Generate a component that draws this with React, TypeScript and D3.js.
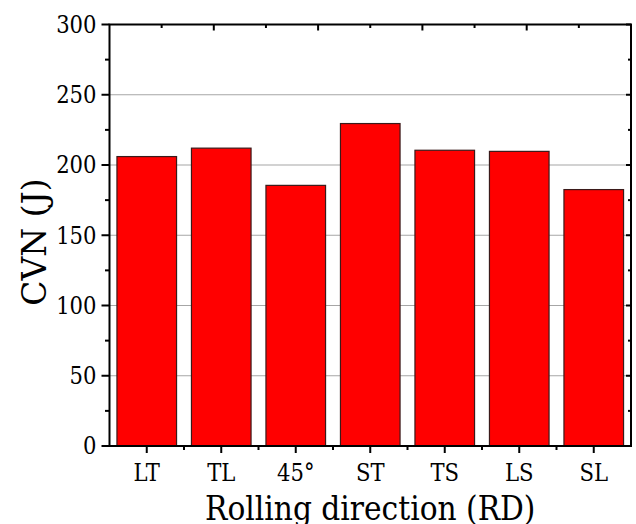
import React from "react";
import * as d3 from "d3";

const categories = ["LT", "TL", "45°", "ST", "TS", "LS", "SL"];
const cvnValues = [206, 212, 185.5, 229.5, 210.5, 209.7, 182.5];
const yTicks = [0, 50, 100, 150, 200, 250, 300];
const yMinorTicks = [25, 75, 125, 175, 225, 275];
const gridValues = [50, 100, 150, 200, 250];

const W = 636;
const H = 524;
const M = { left: 109.5, right: 631, top: 24.5, bottom: 446 };
const FONT = "'DejaVu Serif', serif";
const TICK_SIZE = 23.5;
const TICK_SX = 0.9;
const TITLE_SIZE = 33;

export default function App() {
  const x = d3
    .scaleBand<string>()
    .domain(categories)
    .range([M.left, M.right])
    .paddingInner(0.2)
    .paddingOuter(0.1);
  const y = d3.scaleLinear().domain([0, 300]).range([M.bottom, M.top]);
  const step = x.step();
  const boundaries = d3.range(categories.length + 1).map((i) => M.left + i * step);
  const topMajor = d3.range(1, 5).map((i) => M.left + (i * (M.right - M.left)) / 5);
  const topMinor = d3.range(0, 5).map((i) => M.left + ((i + 0.5) * (M.right - M.left)) / 5);
  const ts = { fontFamily: FONT };

  return (
    <svg
      width={W}
      height={H}
      style={{ position: "absolute", left: 0, top: 0, background: "#fff", fontFamily: FONT }}
    >
      {gridValues.map((v) => (
        <line key={"g" + v} x1={M.left} x2={M.right} y1={y(v)} y2={y(v)} stroke="#a6a6a6" strokeWidth={1.2} />
      ))}
      {categories.map((c, i) => (
        <rect
          key={c}
          x={x(c)}
          y={y(cvnValues[i])}
          width={x.bandwidth()}
          height={y(0) - y(cvnValues[i])}
          fill="#ff0000"
          stroke="#3a1a1a"
          strokeWidth={1.2}
        />
      ))}
      {yTicks.map((v) => (
        <g key={"yt" + v}>
          <line x1={M.left - 8} x2={M.left} y1={y(v)} y2={y(v)} stroke="#000" strokeWidth={2} />
          <line x1={M.right} x2={M.right - 5} y1={y(v)} y2={y(v)} stroke="#000" strokeWidth={2} />
          <text
            style={ts}
            transform={`translate(${M.left - 13}, ${y(v)}) scale(${TICK_SX}, 1)`}
            dy="0.36em"
            textAnchor="end"
            fontSize={TICK_SIZE}
            fill="#000"
          >
            {v}
          </text>
        </g>
      ))}
      {yMinorTicks.map((v) => (
        <g key={"ym" + v}>
          <line x1={M.left - 4.5} x2={M.left} y1={y(v)} y2={y(v)} stroke="#000" strokeWidth={2} />
          <line x1={M.right} x2={M.right - 3} y1={y(v)} y2={y(v)} stroke="#000" strokeWidth={2} />
        </g>
      ))}
      {categories.map((c) => {
        const cx = (x(c) as number) + x.bandwidth() / 2;
        return (
          <g key={"xt" + c}>
            <line x1={cx} x2={cx} y1={M.bottom} y2={M.bottom + 7} stroke="#000" strokeWidth={2} />
            <text
              style={ts}
              transform={`translate(${cx}, ${M.bottom + 35}) scale(${TICK_SX}, 1)`}
              textAnchor="middle"
              fontSize={TICK_SIZE}
              fill="#000"
            >
              {c}
            </text>
          </g>
        );
      })}
      {boundaries.slice(1, -1).map((bx, i) => (
        <line key={"xm" + i} x1={bx} x2={bx} y1={M.bottom} y2={M.bottom + 4} stroke="#000" strokeWidth={2} />
      ))}
      {topMajor.map((tx, i) => (
        <line key={"tM" + i} x1={tx} x2={tx} y1={M.top} y2={M.top + 6} stroke="#000" strokeWidth={2} />
      ))}
      {topMinor.map((tx, i) => (
        <line key={"tm" + i} x1={tx} x2={tx} y1={M.top} y2={M.top + 3.5} stroke="#000" strokeWidth={2} />
      ))}
      <rect
        x={M.left}
        y={M.top}
        width={M.right - M.left}
        height={M.bottom - M.top}
        fill="none"
        stroke="#000"
        strokeWidth={2}
      />
      <text
        style={ts}
        transform={`translate(46, 242) rotate(-90)`}
        textAnchor="middle"
        fontSize={TITLE_SIZE}
        fill="#000"
      >
        CVN (J)
      </text>
      <text
        style={ts}
        transform={`translate(${(M.left + M.right) / 2}, 520) scale(0.9, 1)`}
        textAnchor="middle"
        fontSize={TITLE_SIZE}
        fill="#000"
      >
        Rolling direction (RD)
      </text>
    </svg>
  );
}
